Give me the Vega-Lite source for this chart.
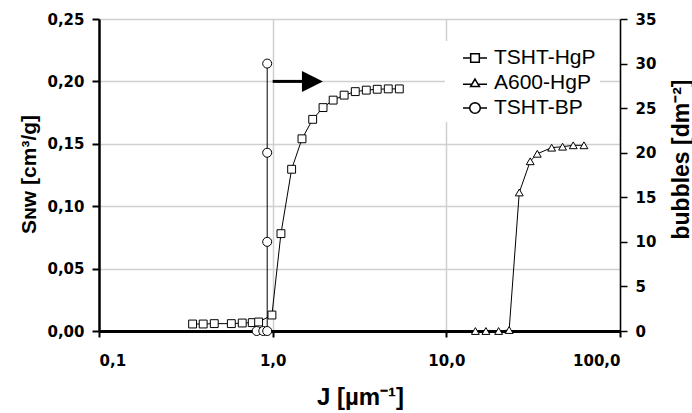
{
  "$schema": "https://vega.github.io/schema/vega-lite/v6.json",
  "width": 521,
  "height": 312,
  "autosize": "none",
  "padding": {"left": 99, "top": 19, "right": 72, "bottom": 82},
  "background": "white",
  "config": {"view": {"stroke": null}, "font": "Liberation Sans"},
  "datasets": {
    "snw": [
      {"series": "TSHT-HgP", "J": 0.346, "S": 0.0056},
      {"series": "TSHT-HgP", "J": 0.398, "S": 0.0056},
      {"series": "TSHT-HgP", "J": 0.461, "S": 0.0059},
      {"series": "TSHT-HgP", "J": 0.578, "S": 0.0059},
      {"series": "TSHT-HgP", "J": 0.668, "S": 0.0064},
      {"series": "TSHT-HgP", "J": 0.763, "S": 0.0067},
      {"series": "TSHT-HgP", "J": 0.83, "S": 0.0072},
      {"series": "TSHT-HgP", "J": 0.99, "S": 0.0128},
      {"series": "TSHT-HgP", "J": 1.116, "S": 0.078},
      {"series": "TSHT-HgP", "J": 1.286, "S": 0.1296},
      {"series": "TSHT-HgP", "J": 1.475, "S": 0.154},
      {"series": "TSHT-HgP", "J": 1.7, "S": 0.1696},
      {"series": "TSHT-HgP", "J": 1.95, "S": 0.179},
      {"series": "TSHT-HgP", "J": 2.23, "S": 0.185},
      {"series": "TSHT-HgP", "J": 2.58, "S": 0.189},
      {"series": "TSHT-HgP", "J": 2.99, "S": 0.1918},
      {"series": "TSHT-HgP", "J": 3.46, "S": 0.193},
      {"series": "TSHT-HgP", "J": 4.0, "S": 0.1937},
      {"series": "TSHT-HgP", "J": 4.63, "S": 0.194},
      {"series": "TSHT-HgP", "J": 5.36, "S": 0.194},
      {"series": "A600-HgP", "J": 14.7, "S": 0.0},
      {"series": "A600-HgP", "J": 16.9, "S": 0.0},
      {"series": "A600-HgP", "J": 20.0, "S": 0.0},
      {"series": "A600-HgP", "J": 23.0, "S": 0.0008},
      {"series": "A600-HgP", "J": 26.3, "S": 0.111},
      {"series": "A600-HgP", "J": 30.4, "S": 0.136},
      {"series": "A600-HgP", "J": 33.4, "S": 0.142},
      {"series": "A600-HgP", "J": 40.4, "S": 0.1469},
      {"series": "A600-HgP", "J": 46.7, "S": 0.1477},
      {"series": "A600-HgP", "J": 53.8, "S": 0.1488},
      {"series": "A600-HgP", "J": 62.0, "S": 0.1488}
    ],
    "bp": [
      {"series": "TSHT-BP", "J": 0.809, "B": 0},
      {"series": "TSHT-BP", "J": 0.883, "B": 0},
      {"series": "TSHT-BP", "J": 0.93, "B": 0},
      {"series": "TSHT-BP", "J": 0.93, "B": 10},
      {"series": "TSHT-BP", "J": 0.93, "B": 20},
      {"series": "TSHT-BP", "J": 0.93, "B": 30}
    ],
    "arrow": [{"J": 1.0, "J2": 1.48, "S": 0.2}],
    "head": [{"J": 1.695, "S": 0.2}]
  },
  "encoding": {
    "x": {
      "field": "J",
      "type": "quantitative",
      "scale": {"type": "log", "domain": [0.1, 100], "nice": false},
      "axis": {
        "values": [0.1, 1, 10, 100],
        "labelExpr": "replace(format(datum.value, '.1f'), '.', ',')",
        "title": "J [µm⁻¹]",
        "grid": true,
        "gridColor": "#d0d0d0",
        "gridWidth": 1.5,
        "domainColor": "black",
        "domainWidth": 3,
        "tickColor": "black",
        "tickWidth": 2,
        "tickSize": 6,
        "labelPadding": 16,
        "labelFont": "DejaVu Sans",
        "labelFontWeight": "bold",
        "labelFontSize": 15,
        "labelColor": "black",
        "titleFont": "Liberation Sans",
        "titleFontSize": 24,
        "titleFontWeight": "bold",
        "titleColor": "black",
        "titleAlign": "center",
        "titleBaseline": "middle",
        "titleX": 261,
        "titleY": 66
      }
    }
  },
  "layer": [
    {
      "encoding": {
        "y": {
          "field": "S",
          "type": "quantitative",
          "scale": {"domain": [0, 0.25], "nice": false, "zero": true},
          "axis": {
            "orient": "left",
            "values": [0, 0.05, 0.1, 0.15, 0.2, 0.25],
            "labelExpr": "replace(format(datum.value, '.2f'), '.', ',')",
            "title": "Sɴᴡ [cm³/g]",
            "grid": true,
            "gridColor": "#d0d0d0",
            "gridWidth": 1.5,
            "domainColor": "black",
            "domainWidth": 2.5,
            "tickColor": "black",
            "tickWidth": 2,
            "tickSize": 7,
            "labelPadding": 8,
            "labelFont": "DejaVu Sans",
            "labelFontWeight": "bold",
            "labelFontSize": 15,
            "labelColor": "black",
            "titleFont": "Liberation Sans",
            "titleFontSize": 21,
            "titleFontWeight": "bold",
            "titleColor": "black",
            "titleAngle": -90,
            "titleAlign": "center",
            "titleBaseline": "middle",
            "titleX": -70,
            "titleY": 155
          }
        }
      },
      "layer": [
        {
          "data": {"name": "snw"},
          "mark": {"type": "line", "color": "black", "strokeWidth": 1},
          "encoding": {"detail": {"field": "series", "type": "nominal"}}
        },
        {
          "data": {"name": "snw"},
          "transform": [{"filter": "datum.series === 'TSHT-HgP'"}],
          "mark": {"type": "point", "shape": "square", "filled": true, "fill": "white", "stroke": "black", "strokeWidth": 1, "opacity": 1, "size": 62},
          "encoding": {}
        },
        {
          "data": {"name": "snw"},
          "transform": [{"filter": "datum.series === 'A600-HgP'"}],
          "mark": {"type": "point", "shape": "triangle-up", "filled": true, "fill": "white", "stroke": "black", "strokeWidth": 1, "opacity": 1, "size": 62},
          "encoding": {}
        },
        {
          "data": {"name": "snw"},
          "mark": {"type": "point", "filled": true, "fill": "white", "stroke": "black", "strokeWidth": 1, "opacity": 1, "size": 0},
          "encoding": {
            "shape": {
              "field": "series",
              "type": "nominal",
              "scale": {
                "domain": ["TSHT-HgP", "A600-HgP", "TSHT-BP"],
                "range": [
                  "M-1,0L-0.36,0M0.36,0L1,0M-0.36,-0.36L0.36,-0.36L0.36,0.36L-0.36,0.36Z",
                  "M-1,0.1L-0.25,0.1M0.25,0.1L1,0.1M0,-0.33L0.37,0.3L-0.37,0.3Z",
                  "M-1,0L-0.44,0M0.44,0L1,0M0.44,0L0.407,0.168L0.311,0.311L0.168,0.407L0,0.44L-0.168,0.407L-0.311,0.311L-0.407,0.168L-0.44,0L-0.407,-0.168L-0.311,-0.311L-0.168,-0.407L0,-0.44L0.168,-0.407L0.311,-0.311L0.407,-0.168Z"
                ]
              },
              "legend": {
                "orient": "none",
                "legendX": 346,
                "legendY": 22,
                "title": null,
                "fillColor": "white",
                "padding": 4,
                "symbolOffset": 13,
                "symbolSize": 576,
                "labelFont": "Liberation Sans",
                "labelFontSize": 21,
                "labelColor": "black",
                "labelOffset": 6,
                "rowPadding": 2
              }
            }
          }
        },
        {
          "data": {"name": "arrow"},
          "mark": {"type": "rule", "color": "black", "strokeWidth": 3},
          "encoding": {"x2": {"field": "J2"}}
        },
        {
          "data": {"name": "head"},
          "mark": {"type": "point", "shape": "M-1,-1L1,0L-1,1Z", "filled": true, "fill": "black", "stroke": "black", "strokeWidth": 0, "opacity": 1, "size": 441},
          "encoding": {}
        }
      ]
    },
    {
      "data": {"name": "bp"},
      "encoding": {
        "y": {
          "field": "B",
          "type": "quantitative",
          "scale": {"domain": [0, 35], "nice": false},
          "axis": {
            "orient": "right",
            "values": [0, 5, 10, 15, 20, 25, 30, 35],
            "format": "d",
            "grid": false,
            "title": "bubbles [dm⁻²]",
            "domainColor": "black",
            "domainWidth": 1.5,
            "tickColor": "black",
            "tickWidth": 1.5,
            "tickSize": 7,
            "labelPadding": 8,
            "labelFont": "DejaVu Sans",
            "labelFontWeight": "bold",
            "labelFontSize": 15,
            "labelColor": "black",
            "titleFont": "Liberation Sans",
            "titleFontSize": 23,
            "titleFontWeight": "bold",
            "titleColor": "black",
            "titleAngle": -90,
            "titleAlign": "center",
            "titleBaseline": "middle",
            "titleX": 61,
            "titleY": 140
          }
        }
      },
      "layer": [
        {
          "mark": {"type": "line", "color": "black", "strokeWidth": 1},
          "encoding": {}
        },
        {
          "mark": {"type": "point", "shape": "circle", "filled": true, "fill": "white", "stroke": "black", "strokeWidth": 1, "opacity": 1, "size": 81},
          "encoding": {}
        }
      ]
    }
  ],
  "resolve": {"scale": {"y": "independent"}}
}
